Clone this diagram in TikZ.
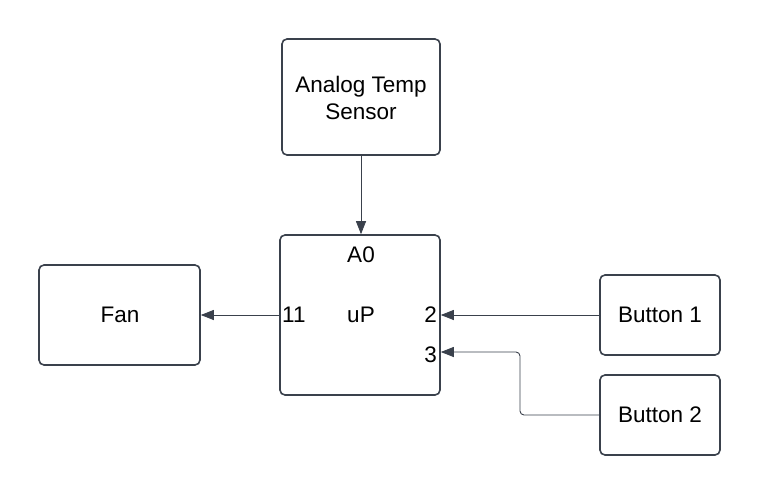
\documentclass[tikz,border=0pt]{standalone}
\usepackage{fontspec}
\setmainfont{Liberation Sans}
\usetikzlibrary{arrows.meta}
\definecolor{ink}{HTML}{3A414C}
\begin{document}
\begin{tikzpicture}[x=1pt,y=-1pt,
  box/.style={draw=ink,line width=1.6pt,rounded corners=5pt,fill=white,inner sep=0pt},
  lbl/.style={font=\fontsize{22.5}{26.5}\selectfont,inner sep=0pt,text=black},
  conn/.style={draw=ink,line width=0.9pt,-{Triangle[length=13pt,width=10pt]}}]
\useasboundingbox (0,0) rectangle (760,495);
\node[box,minimum width=158pt,minimum height=116pt] (sensor) at (361,97) {};
\node[lbl,align=center] (sensortxt) at (361,98) {Analog Temp\\Sensor};
\node[box,minimum width=160pt,minimum height=160pt] (up) at (360,315) {};
\node[lbl] (a0) at (361,255) {A0};
\node[lbl] (uptxt) at (361,315) {uP};
\node[lbl,anchor=west] (p11) at (282,315) {11};
\node[lbl,anchor=east] (p2) at (437,315) {2};
\node[lbl,anchor=east] (p3) at (437,355) {3};
\node[box,minimum width=161pt,minimum height=100pt] (fan) at (119.5,315) {};
\node[lbl] (fantxt) at (120,315) {Fan};
\node[box,minimum width=120pt,minimum height=80pt] (b1) at (660,315) {};
\node[lbl] (b1txt) at (660,315) {Button 1};
\node[box,minimum width=120pt,minimum height=80pt] (b2) at (660,415) {};
\node[lbl] (b2txt) at (660,415) {Button 2};
\coordinate (p3in) at (up.east |- 0,352);
\coordinate (bend) at (520,352);
\draw[conn] (sensor.south) -- (sensor.south |- up.north);
\draw[conn] (up.west) -- (fan.east);
\draw[conn] (b1.west) -- (up.east);
\draw[conn,rounded corners=4pt] (b2.west) -| (bend) -- (p3in);
\end{tikzpicture}
\end{document}
